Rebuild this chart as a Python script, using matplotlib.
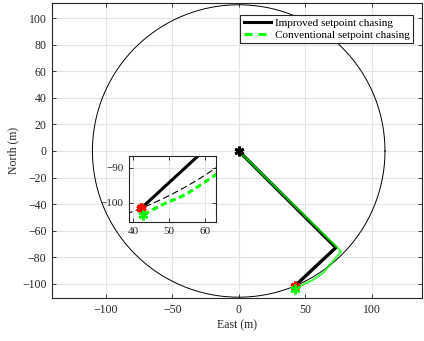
import matplotlib
matplotlib.use("Agg")
import matplotlib.pyplot as plt
import numpy as np
from matplotlib.lines import Line2D

plt.rcParams['font.family'] = ['Liberation Serif', 'DejaVu Serif']

# trajectories (east, north) in metres
improved_east = [0, 73, 42.2]
improved_north = [0, -72.7, -101.6]
conv_east = [0, 77, 70, 63, 54.8, 47.8, 42.7]
conv_north = [0, -75.5, -84, -92.1, -97.6, -100.7, -103.5]

start = (0, 0)
improved_end = (42.2, -101.6)
conv_end = (42.7, -103.5)

circle_radius = 110

xticks = [-100, -50, 0, 50, 100]
yticks = list(range(-100, 101, 20))
inset_xticks = [40, 50, 60]
inset_yticks = [-100, -90]

dark = '#262626'
grid_c = '#e3e3e3'
lime = '#00ff00'
asterisk = (6, 2, 0)

fig = plt.figure(figsize=(4.24, 3.41), dpi=100)
ax = fig.add_axes([0.1226, 0.1261, 0.8726, 0.865])

theta = np.linspace(0, 2 * np.pi, 400)
cx = circle_radius * np.cos(theta)
cy = circle_radius * np.sin(theta)


def style_axes(a, fs):
    a.grid(True, color=grid_c, lw=0.8)
    a.set_axisbelow(True)
    a.tick_params(direction='in', length=3, width=0.6, colors=dark,
                  labelsize=fs, top=True, right=True, pad=4)
    for s in a.spines.values():
        s.set_color(dark)
        s.set_linewidth(0.8)


ax.plot(cx, cy, color='black', lw=0.7)
ax.plot(improved_east, improved_north, color='black', lw=2.4)
ax.plot(conv_east, conv_north, color=lime, lw=1.6, alpha=0.7)
ax.plot(*start, marker=asterisk, color='black', ms=7, mew=2)
ax.plot(*improved_end, marker=asterisk, color='red', ms=7, mew=2.2)
ax.plot(*conv_end, marker=asterisk, color=lime, ms=7, mew=1.6)

ax.set_xlim(-140.4, 137.8)
ax.set_ylim(-110.6, 111.3)
ax.set_xticks(xticks)
ax.set_yticks(yticks)
style_axes(ax, 8.5)
ax.set_xlabel('East (m)', fontsize=8.5, color=dark, labelpad=3)
ax.set_ylabel('North (m)', fontsize=8.5, color=dark, labelpad=2)

handles = [Line2D([], [], color='black', lw=2.2),
           Line2D([], [], color=lime, lw=2.2, ls='--', dashes=(2.6, 2))]
leg = ax.legend(handles, ['Improved setpoint chasing', 'Conventional setpoint chasing'],
                loc='upper right', bbox_to_anchor=(413 / 424, 1 - 15 / 341),
                bbox_transform=fig.transFigure, borderaxespad=0,
                fontsize=8, frameon=True, fancybox=False, framealpha=1,
                handlelength=2.5, handletextpad=0.3, labelspacing=0.2,
                borderpad=0.3)
leg.get_frame().set_edgecolor(dark)
leg.get_frame().set_linewidth(0.8)

# zoomed inset near the end points
ins = fig.add_axes([0.3042, 0.3499, 0.2052, 0.1927])
ins.plot(cx, cy, color='black', lw=0.8, dashes=(6, 3))
ins.plot(improved_east, improved_north, color='black', lw=2.2)
ins.plot(conv_east, conv_north, color=lime, lw=2.2, dashes=(2, 1.2))
ins.plot(*improved_end, marker=asterisk, color='red', ms=7, mew=2.5)
ins.plot(*conv_end, marker=asterisk, color=lime, ms=7, mew=1.6)
ins.set_xlim(38.8, 63.1)
ins.set_ylim(-105.4, -86.7)
ins.set_xticks(inset_xticks)
ins.set_yticks(inset_yticks)
style_axes(ins, 8)

fig.savefig('out.png', dpi=100)
